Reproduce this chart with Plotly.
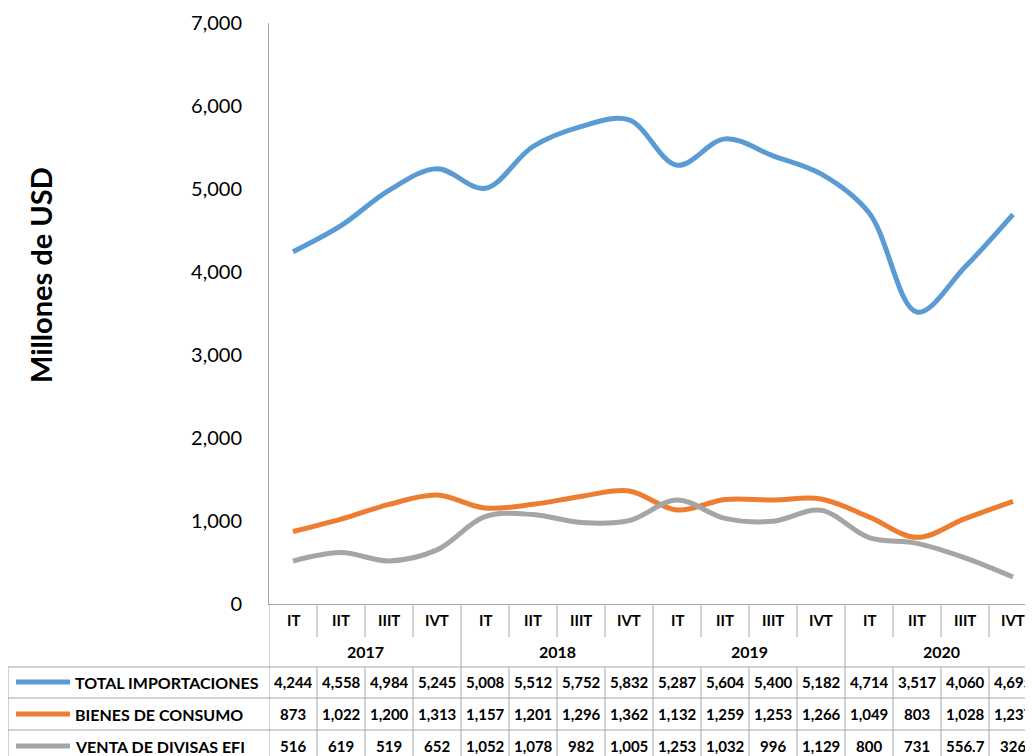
import plotly.graph_objects as go

quarters = ["IT", "IIT", "IIIT", "IVT"] * 4
years = ["2017", "2018", "2019", "2020"]
series_names = ["TOTAL IMPORTACIONES", "BIENES DE CONSUMO", "VENTA DE DIVISAS EFI"]
total_importaciones = [4244, 4558, 4984, 5245, 5008, 5512, 5752, 5832,
                       5287, 5604, 5400, 5182, 4714, 3517, 4060, 4695]
bienes_consumo = [873, 1022, 1200, 1313, 1157, 1201, 1296, 1362,
                  1132, 1259, 1253, 1266, 1049, 803, 1028, 1237]
venta_divisas = [516, 619, 519, 652, 1052, 1078, 982, 1005,
                 1253, 1032, 996, 1129, 800, 731, 556.7, 326]
colors = ["#5B9BD5", "#ED7D31", "#A5A5A5"]

# page is 1033x756, the figure div sits 8px in from the body margin
PAGE_W, PAGE_H = 1033, 756
OFF = 8
W, H = PAGE_W - OFF, PAGE_H - OFF
PLOT_TOP, PLOT_BOTTOM = 23 - OFF, 604 - OFF
AXIS_LEFT = 269 - OFF
CAT_W = 48
GRID = "#A6A6A6"
FONT = "Lato"
TFONT = dict(size=16, family=FONT, color="black")
VFONT = dict(size=15, family=FONT, color="black")


def yp(py):
    # page pixel row -> paper y
    return (PLOT_BOTTOM - (py - OFF)) / (PLOT_BOTTOM - PLOT_TOP)


def xp(px):
    return (px - OFF) / W


def fmt(v):
    if float(v).is_integer():
        return f"{int(v):,}"
    return f"{v}"


def vline(x0, y_top, y_bot, xref="x"):
    return dict(type="line", xref=xref, yref="paper", x0=x0, x1=x0,
                y0=yp(y_top), y1=yp(y_bot), line=dict(color=GRID, width=1))


x = list(range(len(quarters)))
all_series = [total_importaciones, bienes_consumo, venta_divisas]

fig = go.Figure()
for name, vals, col in zip(series_names, all_series, colors):
    fig.add_trace(go.Scatter(
        x=x, y=vals, name=name, mode="lines",
        line=dict(color=col, width=5, shape="spline", smoothing=1.0),
    ))

shapes = []
annotations = []

# category rows (quarters and years)
for i, q in enumerate(quarters):
    annotations.append(dict(x=i, y=yp(620), xref="x", yref="paper", text=f"<b>{q}</b>",
                            xanchor="center", yanchor="middle", showarrow=False, font=VFONT))
for k, yr in enumerate(years):
    annotations.append(dict(x=k * 4 + 1.5, y=yp(651), xref="x", yref="paper", text=f"<b>{yr}</b>",
                            xanchor="center", yanchor="middle", showarrow=False, font=TFONT))

# dividers between quarters
for i in range(len(quarters)):
    b = i + 0.5
    if (i + 1) % 4 == 0:
        shapes.append(vline(b, 604, PAGE_H + 5))
    else:
        shapes.append(vline(b, 604, 637))
        shapes.append(vline(b, 667, PAGE_H + 5))

# left axis line continues through the table, table outer left border
shapes.append(vline(-0.5, 604, PAGE_H + 5))
shapes.append(vline(xp(8), 667, PAGE_H + 5, xref="paper"))
for py in [667, 698, 730]:
    shapes.append(dict(type="line", xref="paper", yref="paper", x0=xp(8), x1=1,
                       y0=yp(py), y1=yp(py), line=dict(color=GRID, width=1)))

# table rows
row_y = [682, 714, 746]
for name, vals, col, ry in zip(series_names, all_series, colors, row_y):
    shapes.append(dict(type="line", xref="paper", yref="paper", x0=xp(16), x1=xp(70),
                       y0=yp(ry), y1=yp(ry), line=dict(color=col, width=5)))
    annotations.append(dict(x=xp(73), y=yp(ry), xref="paper", yref="paper", text=f"<b>{name}</b>",
                            xanchor="left", yanchor="middle", showarrow=False, font=TFONT))
    for i, v in enumerate(vals):
        annotations.append(dict(x=i, y=yp(ry), xref="x", yref="paper", text=f"<b>{fmt(v)}</b>",
                                xanchor="center", yanchor="middle", showarrow=False, font=VFONT))

# y-axis title
annotations.append(dict(x=xp(40), y=yp(275), xref="paper", yref="paper",
                        text="<b>Millones de USD</b>", textangle=-90, showarrow=False,
                        xanchor="center", yanchor="middle",
                        font=dict(size=29, family=FONT, color="black")))

fig.update_layout(
    width=W, height=H,
    margin=dict(l=0, r=0, t=PLOT_TOP, b=H - PLOT_BOTTOM, pad=0),
    paper_bgcolor="white", plot_bgcolor="white",
    showlegend=False,
    font=dict(family=FONT, color="black"),
    xaxis=dict(
        domain=[AXIS_LEFT / W, 1],
        range=[-0.5, -0.5 + (W - AXIS_LEFT) / CAT_W],
        showticklabels=False, showgrid=False, zeroline=False,
        showline=True, linecolor=GRID, linewidth=1, ticks="",
    ),
    yaxis=dict(
        range=[0, 7000], tickvals=[0, 1000, 2000, 3000, 4000, 5000, 6000, 7000],
        tickformat=",d", showgrid=False, zeroline=False,
        showline=True, linecolor=GRID, linewidth=1, ticks="",
        ticklabelstandoff=22, tickfont=dict(size=20, family=FONT, color="black"),
    ),
    shapes=shapes,
    annotations=annotations,
)

fig.write_html("out.html")
